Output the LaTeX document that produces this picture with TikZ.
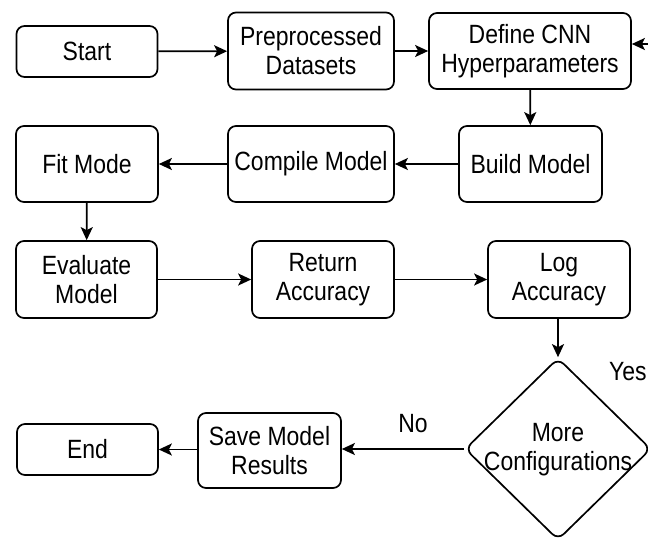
\documentclass[tikz,border=0pt]{standalone}
\usepackage{fontspec}
% narrow, tall sans for the box labels
\setmainfont{Liberation Sans}[FakeStretch=0.87]
\usetikzlibrary{arrows.meta,shapes.geometric}

\tikzset{
  stepbox/.style={draw, line width=1.7pt, rounded corners=8pt, inner sep=0pt,
    align=center, font=\fontsize{26.4}{29}\selectfont},
  decision/.style={draw, line width=1.7pt, diamond, rounded corners=8pt,
    inner sep=0pt, aspect=1},
  flow/.style={draw, line width=1.7pt,
    -{Stealth[length=13pt, width=12pt, inset=3pt]}},
  lbl/.style={inner sep=0pt, font=\fontsize{26.4}{29}\selectfont, align=center}
}

\begin{document}
\begin{tikzpicture}[x=1pt, y=-1pt]
  \useasboundingbox (0,0) rectangle (648,539);
  \clip (0,0) rectangle (648,539);

  % first row
  \node[stepbox, minimum width=141pt, minimum height=51pt] (start) at (87,51.5) {Start};
  \node[stepbox, minimum width=166pt, minimum height=77pt] (prep) at (311,51) {Preprocessed\\Datasets};
  \node[stepbox, minimum width=202pt, minimum height=76pt] (def) at (530,51) {Define CNN\\Hyperparameters};

  % second row
  \node[stepbox, minimum width=142pt, minimum height=76pt] (fit) at (87,164) {Fit Mode};
  \node[stepbox, minimum width=166pt, minimum height=76pt] (compile) at (311,164) {Compile Model};
  \node[stepbox, minimum width=143pt, minimum height=76pt] (build) at (530.5,164) {Build Model};

  % third row
  \node[stepbox, minimum width=141pt, minimum height=77pt] (eval) at (86.5,279.5) {Evaluate\\Model};
  \node[stepbox, minimum width=142pt, minimum height=77pt] (ret) at (323,279.5) {Return\\Accuracy};
  \node[stepbox, minimum width=142pt, minimum height=77pt] (log) at (559,279.5) {Log\\Accuracy};

  % decision and final row
  \node[decision, minimum width=186pt, minimum height=182pt] (dec) at (558,449) {};
  \node[lbl] (dectext) at (558,450) {More\\Configurations};
  \node[stepbox, minimum width=143pt, minimum height=75pt] (save) at (269.5,450.5) {Save Model\\Results};
  \node[stepbox, minimum width=141pt, minimum height=51pt] (end) at (87.5,449.5) {End};

  % connectors
  \draw[flow] (start) -- (prep);
  \draw[flow] (prep) -- (def);
  \draw[flow] (def) -- (build);
  \draw[flow] (build) -- (compile);
  \draw[flow] (compile) -- (fit);
  \draw[flow] (fit) -- (eval);
  \draw[flow] (eval) -- (ret);
  \draw[flow] (ret) -- (log);
  \draw[flow] (log.south -| dec.north) -- (dec.north);
  \draw[flow] (dec.west) -- (save.east |- dec.west);
  \draw[flow] (save.west |- end.east) -- (end.east);
  \draw[flow] (dec.east) -- ++(30,0) |- ([yshift=7pt]def.east);

  % branch labels
  \node[lbl] (nolbl) at (413,424) {No};
  \node[lbl, anchor=west] (yeslbl) at (609,372) {Yes};
\end{tikzpicture}
\end{document}
